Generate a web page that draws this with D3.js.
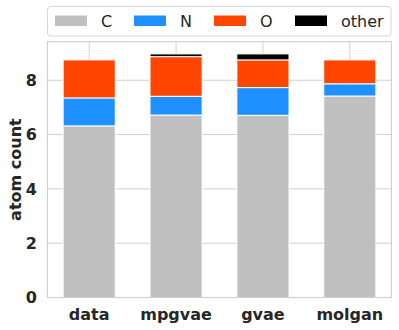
<!DOCTYPE html>
<html>
<head>
<meta charset="utf-8">
<script src="https://cdn.jsdelivr.net/npm/d3@7"></script>
<style>
  body { margin: 0; background: #fff; }
  text { font-family: "DejaVu Sans", sans-serif; }
</style>
</head>
<body>
<svg id="chart" width="399" height="330"></svg>
<script>
// models on the x axis
const models = ["data", "mpgvae", "gvae", "molgan"];
// mean atom counts per element, stacked in this order
const elements = ["C", "N", "O", "other"];
const countC = [6.32, 6.72, 6.71, 7.42];
const countN = [1.03, 0.69, 1.02, 0.45];
const countO = [1.40, 1.46, 1.02, 0.88];
const countOther = [0.0, 0.10, 0.22, 0.0];
const yTicks = [0, 2, 4, 6, 8];

const colors = { C: "#c0c0c0", N: "#1e90ff", O: "#ff4500", other: "#000000" };

var rows = models.map(function (m, i) {
    return { model: m, i: i, C: countC[i], N: countN[i], O: countO[i], other: countOther[i] };
});

var svg = d3.select("#chart");
var plotL = 47.5, plotR = 391.5, plotT = 41.7, plotB = 297.5;

var x = d3.scaleLinear().domain([-0.48, 3.48]).range([plotL, plotR]);
var y = d3.scaleLinear().domain([0, 9.42]).range([plotB, plotT]);
var barW = 0.6;

// grid
svg.append("g").selectAll("line")
    .data(yTicks).enter().append("line")
    .attr("x1", plotL).attr("x2", plotR)
    .attr("y1", function (d) { return y(d); }).attr("y2", function (d) { return y(d); })
    .attr("stroke", "#d0d0d0").attr("stroke-width", 1);
svg.append("g").selectAll("line")
    .data(models).enter().append("line")
    .attr("x1", function (d, i) { return x(i); }).attr("x2", function (d, i) { return x(i); })
    .attr("y1", plotT).attr("y2", plotB)
    .attr("stroke", "#d0d0d0").attr("stroke-width", 1);

// stacked bars
var stack = d3.stack().keys(elements)(rows);
svg.append("g").selectAll("g")
    .data(stack).enter().append("g")
    .attr("fill", function (s) { return colors[s.key]; })
    .selectAll("rect")
    .data(function (s) { return s.filter(function (d) { return d[1] - d[0] > 0; }); })
    .enter().append("rect")
    .attr("x", function (d) { return x(d.data.i - barW / 2); })
    .attr("width", x(barW) - x(0))
    .attr("y", function (d) { return y(d[1]); })
    .attr("height", function (d) { return y(d[0]) - y(d[1]); })
    .attr("stroke", "#ffffff").attr("stroke-width", 1);

// frame
svg.append("rect")
    .attr("x", plotL).attr("y", plotT)
    .attr("width", plotR - plotL).attr("height", plotB - plotT)
    .attr("fill", "none").attr("stroke", "#d0d0d0").attr("stroke-width", 1.2);

// axes labels
svg.append("g").selectAll("text")
    .data(yTicks).enter().append("text")
    .attr("x", 37).attr("y", function (d) { return y(d); })
    .attr("dy", "0.36em").attr("text-anchor", "end")
    .attr("font-size", 16).attr("font-weight", "bold").attr("fill", "#262626")
    .text(function (d) { return d; });

svg.append("g").selectAll("text")
    .data(models).enter().append("text")
    .attr("x", function (d, i) { return x(i); }).attr("y", 320)
    .attr("text-anchor", "middle")
    .attr("font-size", 16).attr("font-weight", "bold").attr("fill", "#262626")
    .text(function (d) { return d; });

svg.append("text")
    .attr("transform", "translate(21," + ((plotT + plotB) / 2) + ") rotate(-90)")
    .attr("text-anchor", "middle")
    .attr("font-size", 16).attr("font-weight", "bold").attr("fill", "#262626")
    .text("atom count");

// legend
var legend = svg.append("g");
legend.append("rect")
    .attr("x", 47.5).attr("y", 6.5).attr("width", 343.5).attr("height", 29.5)
    .attr("rx", 3).attr("fill", "#fff").attr("stroke", "#d6d6d6");
var legX = [55, 134, 214, 295];
elements.forEach(function (k, i) {
    legend.append("rect")
        .attr("x", legX[i]).attr("y", 15.5).attr("width", 32).attr("height", 10.5)
        .attr("fill", colors[k]);
    legend.append("text")
        .attr("x", legX[i] + 46).attr("y", 20.8).attr("dy", "0.36em")
        .attr("font-size", 16).attr("fill", "#262626")
        .text(k);
});
</script>
</body>
</html>
